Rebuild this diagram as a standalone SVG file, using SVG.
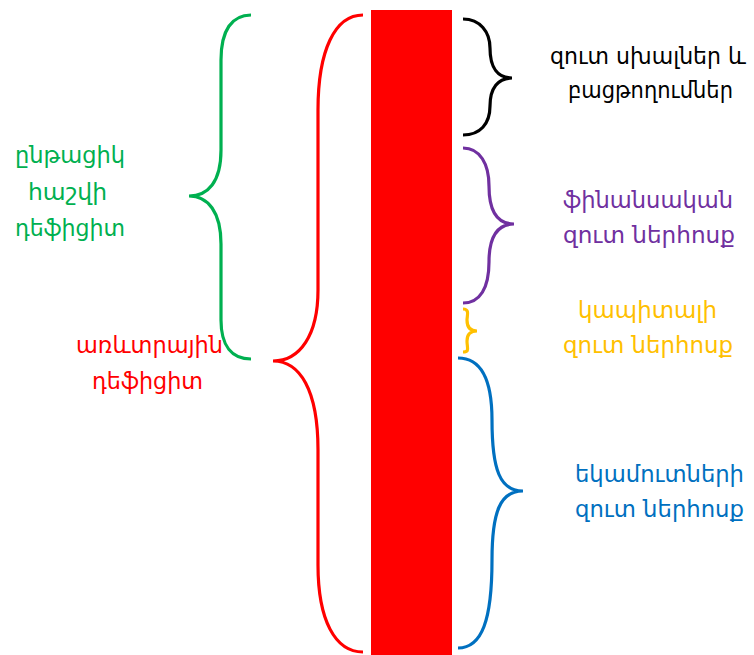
<svg xmlns="http://www.w3.org/2000/svg" width="754" height="655" viewBox="0 0 754 655">
<style>
.b{fill:none;stroke-width:3.2;stroke-linecap:butt}
text{font-family:"DejaVu Sans","Noto Sans",sans-serif;font-size:22.5px;text-anchor:middle}
</style>
<rect width="754" height="655" fill="#fff"/>
<g id="bar"><rect x="371" y="10" width="81" height="645" fill="#ff0000"/></g>
<g id="connectors">
<path class="b" stroke="#00b050" d="M251 15 C232 15 221 30 221 60 L221 150 C221 182 208 196 189 196 C208 196 221 212 221 244 L221 320 C221 346 232 359 251 359"/>
<path class="b" stroke="#ff0000" d="M363 15 C335 15 318 50 318 110 L318 290 C318 335 300 361 273 361 C300 361 318 390 318 450 L318 565 C318 620 335 652 363 652"/>
<path class="b" stroke="#000000" d="M463 19 C480 19 490 32 490 48 C490 68 498 78 512 78 C498 78 490 88 490 106 C490 124 480 135 463 135"/>
<path class="b" stroke="#7030a0" d="M463 148 C480 148 489 164 489 186 C489 210 497 224 514 224 C497 224 489 238 489 262 C489 288 480 303 463 303"/>
<path class="b" stroke="#ffc000" d="M463 309 C470 309 467 316 467 320 C467 327 470 331 477 331 C470 331 467 335 467 341 C467 348 470 352 463 352"/>
<path class="b" stroke="#0070c0" d="M458 358 C482 358 492 380 492 420 C492 470 500 491 523 491 C500 491 492 512 492 560 C492 620 482 648 458 648"/>
</g>
<g id="n-green" fill="#00b050">
<text x="70" y="163" textLength="110" lengthAdjust="spacingAndGlyphs">ընթացիկ</text>
<text x="67.5" y="200" textLength="79" lengthAdjust="spacingAndGlyphs">հաշվի</text>
<text x="70" y="236" textLength="110" lengthAdjust="spacingAndGlyphs">դեֆիցիտ</text>
</g>
<g id="n-red" fill="#ff0000">
<text x="149.5" y="353" textLength="147" lengthAdjust="spacingAndGlyphs">առևտրային</text>
<text x="147.5" y="389" textLength="111" lengthAdjust="spacingAndGlyphs">դեֆիցիտ</text>
</g>
<g id="n-black" fill="#000000">
<text x="648" y="64" textLength="196" lengthAdjust="spacingAndGlyphs">զուտ սխալներ և</text>
<text x="650.5" y="98" textLength="165" lengthAdjust="spacingAndGlyphs">բացթողումներ</text>
</g>
<g id="n-purple" fill="#7030a0">
<text x="648" y="208" textLength="170" lengthAdjust="spacingAndGlyphs">ֆինանսական</text>
<text x="649" y="243" textLength="172" lengthAdjust="spacingAndGlyphs">զուտ ներհոսք</text>
</g>
<g id="n-yellow" fill="#ffc000">
<text x="647.5" y="318" textLength="139" lengthAdjust="spacingAndGlyphs">կապիտալի</text>
<text x="648" y="353" textLength="170" lengthAdjust="spacingAndGlyphs">զուտ ներհոսք</text>
</g>
<g id="n-blue" fill="#0070c0">
<text x="659.5" y="482" textLength="169" lengthAdjust="spacingAndGlyphs">եկամուտների</text>
<text x="659.5" y="517" textLength="169" lengthAdjust="spacingAndGlyphs">զուտ ներհոսք</text>
</g>
</svg>
